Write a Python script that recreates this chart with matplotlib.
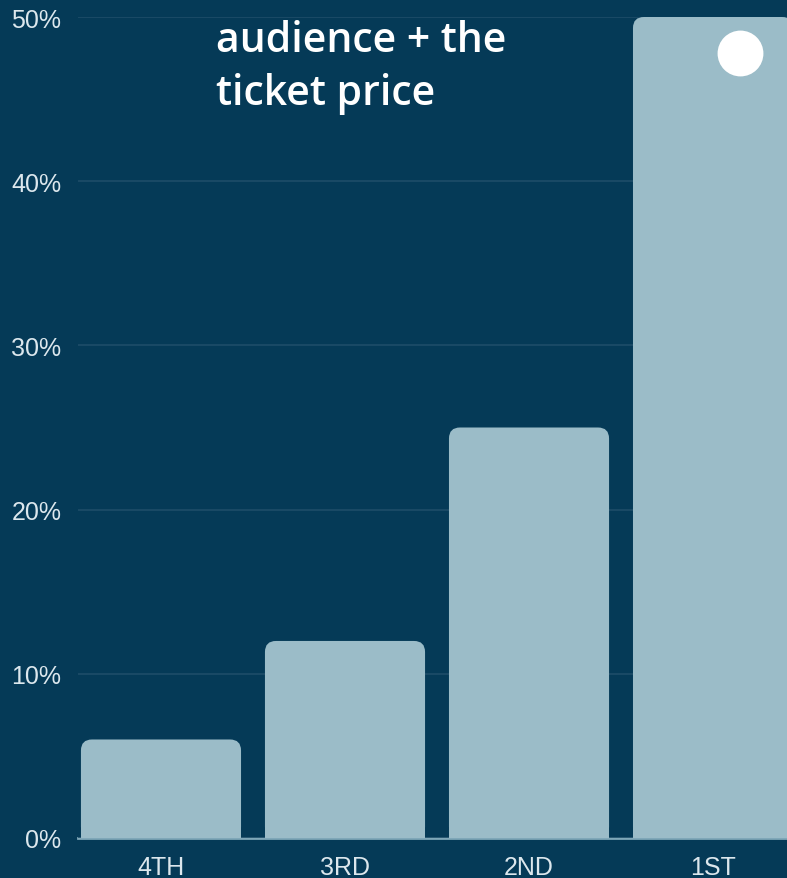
import matplotlib
matplotlib.use("Agg")
import matplotlib.pyplot as plt
from matplotlib.patches import FancyBboxPatch, Rectangle
from matplotlib.ticker import FuncFormatter

categories = ["4TH", "3RD", "2ND", "1ST"]
values = [6, 12, 25, 50]
yticks = [0, 10, 20, 30, 40, 50]
title_lines = "audience + the\nticket price"

BG = "#053a57"
BAR = "#9bbcc8"
GRID = "#1e4d69"
TXT = "#dce7ed"

W, H = 787, 879
fig = plt.figure(figsize=(W / 100, H / 100), dpi=100, facecolor=BG)
left_px, right_px, bot_px, top_px = 78, 787, 839, 18
ax = fig.add_axes([left_px / W, (H - bot_px) / H, (right_px - left_px) / W, (bot_px - top_px) / H])
ax.set_facecolor(BG)

x = list(range(len(categories)))
width = 0.87
ax.set_xlim(-0.451, 3.402)
ax.set_ylim(0, 50)

bars = ax.bar(x, values, width=width, color=BAR, zorder=2)
xu = (3.402 + 0.451) / (right_px - left_px)
yu = 50 / (bot_px - top_px)
r_px = 11
for b in bars:
    b.set_visible(False)
    x0, w, h = b.get_x(), b.get_width(), b.get_height()
    p = FancyBboxPatch((x0, 0), w, h,
                       boxstyle=f"round,pad=0,rounding_size={r_px * xu}",
                       mutation_aspect=yu / xu, facecolor=BAR, edgecolor="none",
                       zorder=2, clip_on=False)
    ax.add_patch(p)
    ax.add_patch(Rectangle((x0, 0), w, h / 2, facecolor=BAR, edgecolor="none", zorder=2))

ax.plot([3.147], [47.8], marker="o", markersize=33, color="white", markeredgewidth=0, zorder=3)

ax.set_yticks(yticks)
ax.yaxis.set_major_formatter(FuncFormatter(lambda v, p: f"{int(v)}%"))
ax.set_xticks(x)
ax.set_xticklabels(categories)
ax.grid(axis="y", color=GRID, linewidth=1.2, zorder=0)
ax.tick_params(axis="both", length=0, labelsize=18, labelcolor=TXT)
ax.tick_params(axis="y", pad=12)
ax.tick_params(axis="x", pad=12)
for lab in ax.get_xticklabels() + ax.get_yticklabels():
    lab.set_fontfamily("Liberation Sans")
for s in ["top", "right", "left"]:
    ax.spines[s].set_visible(False)
ax.spines["bottom"].set_color("#7fa7b8")
ax.spines["bottom"].set_linewidth(2)
ax.spines["bottom"].set_zorder(1)

fig.text(216 / W, 1 - 105 / H, title_lines, color="white", fontsize=29.5,
         fontfamily="Open Sans", fontweight="semibold", ha="left", va="baseline",
         linespacing=1.33)

fig.savefig("out.png", dpi=100, facecolor=BG)
